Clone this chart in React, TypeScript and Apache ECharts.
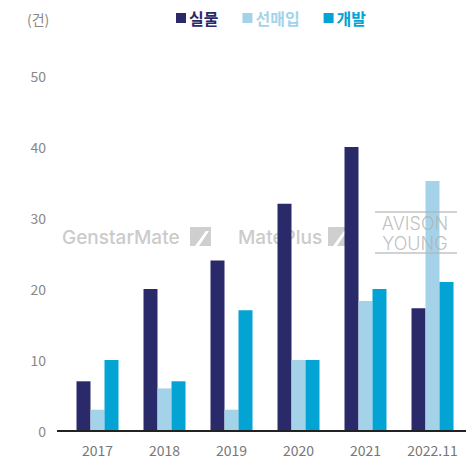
import React, { useEffect, useRef } from "react";
import * as echarts from "echarts";

const categories = ["2017", "2018", "2019", "2020", "2021", "2022.11"];
const silmul = [7, 20, 24, 32, 40, 17.3];
const seonmaeip = [3, 6, 3, 10, 18.3, 35.2];
const gaebal = [10, 7, 17, 10, 20, 21];
const yTicks = { min: 0, max: 50, interval: 10 };
const seriesNames = ["실물", "선매입", "개발"];
const colors = ["#2a2a6a", "#a4d3e9", "#03a3d3"];

const FONT = "'Noto Sans CJK KR', 'Noto Sans', sans-serif";

export default function App() {
  const ref = useRef<HTMLDivElement>(null);
  useEffect(() => {
    if (!ref.current) return;
    const chart = echarts.init(ref.current, null, { renderer: "svg" });
    const logoIcon = (x: number, y: number) => ({
      type: "group",
      x,
      y,
      z: 0,
      children: [
        { type: "rect", shape: { x: 0, y: 0, width: 21, height: 19 }, style: { fill: "#cfcfcf" } },
        {
          type: "polygon",
          shape: { points: [[5, 19], [16, 4], [19, 4], [9, 19]] },
          style: { fill: "#ffffff" },
        },
      ],
    });
    const wmStyle = (text: string) => ({
      text,
      fill: "#b0b0b0",
      opacity: 0.8,
      align: "center",
      verticalAlign: "middle",
      font: `300 18px Inter, 'Open Sans', sans-serif`,
    });
    const dataSeries = [silmul, seonmaeip, gaebal];
    chart.setOption({
      animation: false,
      textStyle: { fontFamily: FONT },
      legend: {
        left: 171,
        top: 5,
        icon: "rect",
        itemWidth: 10,
        itemHeight: 10,
        itemGap: 24,
        data: seriesNames.map((n, i) => ({
          name: n,
          textStyle: {
            color: colors[i],
            fontSize: 16,
            fontWeight: "bold",
            fontFamily: FONT,
            padding: [0, 0, 0, -2],
          },
        })),
      },
      grid: { left: 64, right: -4, top: 76, bottom: 28, containLabel: false },
      xAxis: {
        type: "category",
        data: categories,
        axisLine: { show: false },
        axisTick: { show: false },
        axisLabel: { color: "#777777", fontSize: 14, margin: 12, fontFamily: FONT },
      },
      yAxis: {
        type: "value",
        min: yTicks.min,
        max: yTicks.max,
        interval: yTicks.interval,
        axisLine: { show: false },
        axisTick: { show: false },
        splitLine: { show: false },
        axisLabel: { color: "#888888", fontSize: 14, margin: 18, fontFamily: FONT },
      },
      series: seriesNames.map((n, i) => ({
        name: n,
        type: "bar",
        data: dataSeries[i],
        barWidth: 14,
        barGap: "0%",
        itemStyle: { color: colors[i] },
        z: 2,
      })),
      graphic: [
        {
          type: "text",
          x: 27,
          y: 12,
          style: { text: "(건)", fill: "#888888", font: `14px ${FONT}` },
        },
        {
          type: "line",
          shape: { x1: 57, y1: 431, x2: 466, y2: 431 },
          style: { stroke: "#222222", lineWidth: 2 },
          z: 10,
        },
        {
          type: "text",
          x: 62,
          y: 228,
          z: 0,
          style: { text: "GenstarMate", fill: "#cbcbcb", font: `500 19px Inter, Roboto, sans-serif` },
        },
        logoIcon(190, 227),
        {
          type: "text",
          x: 238,
          y: 228,
          z: 0,
          style: { text: "MatePlus", fill: "#cbcbcb", font: `500 19px Inter, Roboto, sans-serif` },
        },
        logoIcon(328, 227),
        {
          type: "group",
          z: 100,
          children: [
            { type: "line", shape: { x1: 375, y1: 212, x2: 457, y2: 212 }, style: { stroke: "#b5b5b5", lineWidth: 1.5, opacity: 0.8 }, z: 100 },
            { type: "line", shape: { x1: 375, y1: 253, x2: 457, y2: 253 }, style: { stroke: "#b5b5b5", lineWidth: 1.5, opacity: 0.8 }, z: 100 },
            { type: "text", x: 415, y: 223, z: 100, style: wmStyle("AVISON") },
            { type: "text", x: 415, y: 243, z: 100, style: wmStyle("YOUNG") },
          ],
        },
      ],
    });
    return () => chart.dispose();
  }, []);
  return (
    <div
      ref={ref}
      style={{ position: "fixed", left: 0, top: 0, width: 466, height: 459, background: "#ffffff" }}
    />
  );
}
